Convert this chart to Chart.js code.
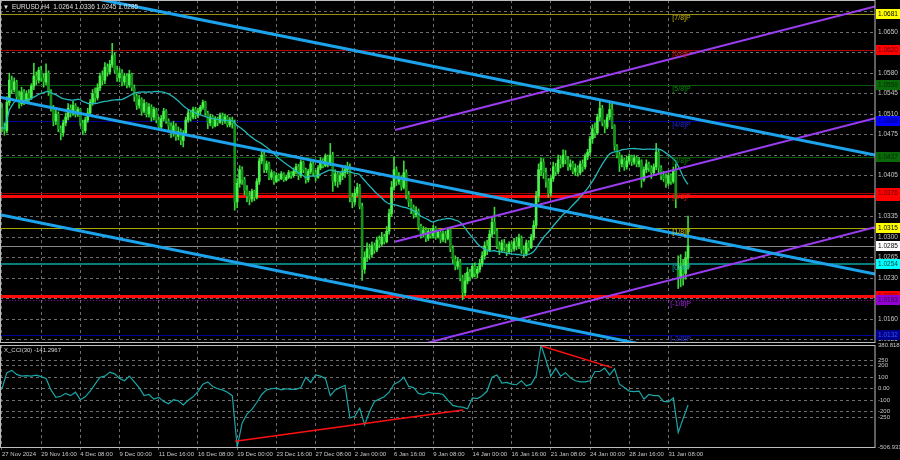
<!DOCTYPE html>
<html>
<head>
<meta charset="utf-8">
<title>EURUSD H4</title>
<script src="https://cdn.jsdelivr.net/npm/chart.js@4.4.1/dist/chart.umd.min.js"></script>
<style>
  html, body { margin: 0; padding: 0; background: #000; overflow: hidden; }
  #wrap { position: relative; width: 900px; height: 460px; }
  #priceChart { position: absolute; left: 0; top: 0; }
  #cciChart { position: absolute; left: 0; top: 338px; }
</style>
</head>
<body>
<div id="wrap">
  <canvas id="priceChart" width="900" height="343"></canvas>
  <canvas id="cciChart" width="900" height="122"></canvas>
</div>
<script>
// time axis labels, one every 16 H4 bars
const timeLabels = ['27 Nov 2024', '29 Nov 16:00', '4 Dec 08:00', '9 Dec 00:00', '11 Dec 16:00', '16 Dec 08:00',
    '19 Dec 00:00', '23 Dec 16:00', '27 Dec 08:00', '2 Jan 00:00', '6 Jan 16:00', '9 Jan 08:00',
    '14 Jan 00:00', '16 Jan 16:00', '21 Jan 08:00', '24 Jan 00:00', '28 Jan 16:00', '31 Jan 08:00'];

const priceTicks = [1.0125, 1.0160, 1.0195, 1.0230, 1.0265, 1.0300, 1.0335, 1.0370, 1.0405,
    1.0440, 1.0475, 1.0510, 1.0545, 1.0580, 1.0615, 1.0650, 1.0685];

// EURUSD H4 candles (open = previous close, except after the weekend gap)
const firstOpen = 1.0520;
const gapOpens = { 276: 1.0245 };
const closes = [
    1.0488, 1.0482, 1.0530, 1.0568, 1.0552, 1.0565, 1.0540, 1.0528, 1.0548, 1.0532,
    1.0545, 1.0538, 1.0558, 1.0575, 1.0568, 1.0585, 1.0572, 1.0565, 1.0580, 1.0548,
    1.0520, 1.0498, 1.0510, 1.0485, 1.0478, 1.0495, 1.0505, 1.0520, 1.0512, 1.0525,
    1.0510, 1.0518, 1.0495, 1.0482, 1.0500, 1.0512, 1.0530, 1.0545, 1.0538, 1.0555,
    1.0575, 1.0568, 1.0590, 1.0582, 1.0595, 1.0610, 1.0585, 1.0572, 1.0580, 1.0565,
    1.0575, 1.0560, 1.0578, 1.0555, 1.0540, 1.0525, 1.0535, 1.0515, 1.0528, 1.0510,
    1.0522, 1.0505, 1.0518, 1.0500, 1.0488, 1.0502, 1.0515, 1.0498, 1.0490, 1.0478,
    1.0490, 1.0472, 1.0480, 1.0465, 1.0478, 1.0500, 1.0512, 1.0505, 1.0518, 1.0508,
    1.0515, 1.0522, 1.0530, 1.0512, 1.0495, 1.0505, 1.0490, 1.0502, 1.0496, 1.0508,
    1.0498, 1.0505, 1.0492, 1.0500, 1.0495, 1.0360, 1.0392, 1.0415, 1.0398, 1.0380,
    1.0370, 1.0365, 1.0378, 1.0368, 1.0395, 1.0430, 1.0440, 1.0415, 1.0425, 1.0402,
    1.0410, 1.0395, 1.0405, 1.0400, 1.0408, 1.0398, 1.0402, 1.0410, 1.0405, 1.0412,
    1.0420, 1.0405, 1.0428, 1.0415, 1.0398, 1.0412, 1.0425, 1.0410, 1.0402, 1.0418,
    1.0430, 1.0422, 1.0438, 1.0425, 1.0440, 1.0395, 1.0408, 1.0395, 1.0405, 1.0410,
    1.0415, 1.0420, 1.0368, 1.0360, 1.0375, 1.0385, 1.0352, 1.0245, 1.0265, 1.0280,
    1.0270, 1.0285, 1.0278, 1.0295, 1.0288, 1.0300, 1.0292, 1.0310, 1.0340, 1.0385,
    1.0415, 1.0395, 1.0402, 1.0385, 1.0410, 1.0372, 1.0360, 1.0350, 1.0338, 1.0345,
    1.0318, 1.0305, 1.0312, 1.0298, 1.0310, 1.0302, 1.0315, 1.0300, 1.0308, 1.0296,
    1.0305, 1.0298, 1.0312, 1.0280, 1.0262, 1.0250, 1.0258, 1.0230, 1.0205, 1.0225,
    1.0240, 1.0232, 1.0250, 1.0238, 1.0245, 1.0255, 1.0268, 1.0285, 1.0278, 1.0305,
    1.0325, 1.0310, 1.0285, 1.0278, 1.0290, 1.0282, 1.0275, 1.0288, 1.0280, 1.0292,
    1.0285, 1.0298, 1.0278, 1.0272, 1.0290, 1.0282, 1.0300, 1.0320, 1.0370, 1.0415,
    1.0428, 1.0410, 1.0395, 1.0375, 1.0400, 1.0420, 1.0412, 1.0432, 1.0425, 1.0440,
    1.0432, 1.0420, 1.0425, 1.0412, 1.0418, 1.0410, 1.0425, 1.0420, 1.0438, 1.0445,
    1.0468, 1.0485, 1.0478, 1.0505, 1.0520, 1.0495, 1.0488, 1.0505, 1.0518, 1.0490,
    1.0455, 1.0440, 1.0425, 1.0432, 1.0420, 1.0430, 1.0438, 1.0428, 1.0435, 1.0425,
    1.0430, 1.0398, 1.0415, 1.0425, 1.0418, 1.0410, 1.0420, 1.0445, 1.0418, 1.0405,
    1.0400, 1.0392, 1.0405, 1.0395, 1.0415, 1.0365, 1.0230, 1.0250, 1.0238, 1.0264,
    1.0285
];
const highs = [
    1.0528, 1.0495, 1.0540, 1.0580, 1.0575, 1.0572, 1.0568, 1.0550, 1.0556, 1.0552,
    1.0550, 1.0552, 1.0562, 1.0597, 1.0582, 1.0590, 1.0592, 1.0578, 1.0596, 1.0584,
    1.0552, 1.0525, 1.0518, 1.0514, 1.0490, 1.0500, 1.0512, 1.0528, 1.0526, 1.0532,
    1.0528, 1.0522, 1.0520, 1.0500, 1.0505, 1.0520, 1.0535, 1.0552, 1.0555, 1.0562,
    1.0580, 1.0584, 1.0598, 1.0596, 1.0602, 1.0631, 1.0615, 1.0592, 1.0588, 1.0586,
    1.0580, 1.0578, 1.0585, 1.0580, 1.0560, 1.0545, 1.0542, 1.0538, 1.0535, 1.0530,
    1.0528, 1.0526, 1.0522, 1.0520, 1.0505, 1.0508, 1.0520, 1.0518, 1.0502, 1.0495,
    1.0498, 1.0494, 1.0488, 1.0485, 1.0482, 1.0505, 1.0518, 1.0516, 1.0522, 1.0522,
    1.0520, 1.0525, 1.0534, 1.0532, 1.0515, 1.0510, 1.0508, 1.0506, 1.0505, 1.0512,
    1.0512, 1.0510, 1.0508, 1.0504, 1.0505, 1.0500, 1.0400, 1.0422, 1.0420, 1.0402,
    1.0388, 1.0378, 1.0382, 1.0380, 1.0400, 1.0435, 1.0449, 1.0445, 1.0430, 1.0428,
    1.0415, 1.0412, 1.0410, 1.0408, 1.0412, 1.0410, 1.0406, 1.0414, 1.0412, 1.0418,
    1.0425, 1.0424, 1.0432, 1.0430, 1.0418, 1.0416, 1.0430, 1.0428, 1.0414, 1.0422,
    1.0436, 1.0434, 1.0442, 1.0440, 1.0460, 1.0445, 1.0415, 1.0412, 1.0410, 1.0418,
    1.0422, 1.0428, 1.0425, 1.0375, 1.0382, 1.0392, 1.0390, 1.0358, 1.0275, 1.0290,
    1.0288, 1.0292, 1.0290, 1.0300, 1.0302, 1.0308, 1.0305, 1.0318, 1.0348, 1.0395,
    1.0437, 1.0420, 1.0410, 1.0405, 1.0430, 1.0415, 1.0378, 1.0365, 1.0355, 1.0352,
    1.0348, 1.0322, 1.0318, 1.0316, 1.0315, 1.0314, 1.0320, 1.0318, 1.0312, 1.0312,
    1.0310, 1.0310, 1.0316, 1.0314, 1.0285, 1.0268, 1.0265, 1.0262, 1.0235, 1.0238,
    1.0248, 1.0245, 1.0255, 1.0256, 1.0250, 1.0262, 1.0275, 1.0292, 1.0295, 1.0312,
    1.0335, 1.0351, 1.0315, 1.0292, 1.0295, 1.0296, 1.0288, 1.0292, 1.0292, 1.0298,
    1.0300, 1.0305, 1.0302, 1.0285, 1.0295, 1.0294, 1.0305, 1.0328, 1.0378, 1.0425,
    1.0435, 1.0434, 1.0418, 1.0400, 1.0405, 1.0428, 1.0426, 1.0440, 1.0438, 1.0449,
    1.0448, 1.0438, 1.0432, 1.0430, 1.0425, 1.0422, 1.0430, 1.0432, 1.0442, 1.0450,
    1.0472, 1.0492, 1.0495, 1.0510, 1.0534, 1.0525, 1.0500, 1.0510, 1.0530, 1.0528,
    1.0492, 1.0458, 1.0445, 1.0440, 1.0435, 1.0438, 1.0442, 1.0440, 1.0440, 1.0438,
    1.0436, 1.0432, 1.0420, 1.0432, 1.0428, 1.0422, 1.0425, 1.0460, 1.0450, 1.0422,
    1.0412, 1.0408, 1.0410, 1.0408, 1.0420, 1.0425, 1.0268, 1.0270, 1.0262, 1.0275,
    1.0336
];
const lows = [
    1.0480, 1.0474, 1.0478, 1.0525, 1.0545, 1.0548, 1.0535, 1.0520, 1.0524, 1.0526,
    1.0528, 1.0530, 1.0535, 1.0552, 1.0560, 1.0563, 1.0566, 1.0556, 1.0560, 1.0542,
    1.0515, 1.0490, 1.0492, 1.0480, 1.0466, 1.0472, 1.0490, 1.0500, 1.0505, 1.0508,
    1.0505, 1.0506, 1.0490, 1.0475, 1.0478, 1.0496, 1.0508, 1.0525, 1.0530, 1.0534,
    1.0550, 1.0560, 1.0562, 1.0575, 1.0578, 1.0590, 1.0580, 1.0566, 1.0565, 1.0558,
    1.0560, 1.0555, 1.0556, 1.0550, 1.0532, 1.0518, 1.0520, 1.0508, 1.0512, 1.0505,
    1.0505, 1.0498, 1.0500, 1.0495, 1.0482, 1.0484, 1.0498, 1.0494, 1.0480, 1.0470,
    1.0472, 1.0465, 1.0466, 1.0458, 1.0454, 1.0475, 1.0496, 1.0498, 1.0502, 1.0502,
    1.0504, 1.0510, 1.0518, 1.0508, 1.0485, 1.0490, 1.0486, 1.0488, 1.0490, 1.0494,
    1.0492, 1.0494, 1.0488, 1.0488, 1.0486, 1.0346, 1.0350, 1.0385, 1.0390, 1.0372,
    1.0360, 1.0355, 1.0360, 1.0362, 1.0365, 1.0390, 1.0425, 1.0410, 1.0410, 1.0398,
    1.0398, 1.0390, 1.0393, 1.0396, 1.0398, 1.0395, 1.0396, 1.0400, 1.0400, 1.0402,
    1.0408, 1.0398, 1.0402, 1.0410, 1.0392, 1.0394, 1.0408, 1.0405, 1.0396, 1.0400,
    1.0415, 1.0418, 1.0420, 1.0420, 1.0422, 1.0378, 1.0388, 1.0385, 1.0390, 1.0398,
    1.0402, 1.0408, 1.0360, 1.0350, 1.0355, 1.0370, 1.0348, 1.0226, 1.0238, 1.0258,
    1.0262, 1.0265, 1.0272, 1.0275, 1.0282, 1.0285, 1.0288, 1.0290, 1.0305, 1.0335,
    1.0380, 1.0388, 1.0390, 1.0380, 1.0382, 1.0365, 1.0352, 1.0340, 1.0332, 1.0334,
    1.0312, 1.0298, 1.0300, 1.0292, 1.0294, 1.0298, 1.0298, 1.0296, 1.0298, 1.0290,
    1.0292, 1.0290, 1.0295, 1.0275, 1.0255, 1.0244, 1.0245, 1.0225, 1.0193, 1.0200,
    1.0220, 1.0225, 1.0230, 1.0232, 1.0230, 1.0240, 1.0250, 1.0262, 1.0270, 1.0275,
    1.0300, 1.0305, 1.0280, 1.0270, 1.0275, 1.0276, 1.0268, 1.0272, 1.0275, 1.0276,
    1.0278, 1.0280, 1.0272, 1.0266, 1.0268, 1.0276, 1.0280, 1.0295, 1.0315, 1.0360,
    1.0405, 1.0400, 1.0385, 1.0368, 1.0370, 1.0395, 1.0405, 1.0408, 1.0418, 1.0420,
    1.0425, 1.0414, 1.0415, 1.0408, 1.0405, 1.0404, 1.0406, 1.0412, 1.0416, 1.0432,
    1.0440, 1.0460, 1.0470, 1.0475, 1.0498, 1.0490, 1.0478, 1.0485, 1.0500, 1.0485,
    1.0448, 1.0435, 1.0412, 1.0420, 1.0414, 1.0416, 1.0426, 1.0422, 1.0424, 1.0420,
    1.0420, 1.0385, 1.0395, 1.0410, 1.0412, 1.0400, 1.0405, 1.0415, 1.0410, 1.0398,
    1.0395, 1.0385, 1.0388, 1.0390, 1.0392, 1.0350, 1.0212, 1.0215, 1.0218, 1.0228,
    1.0245
];

// X_CCI(30), one reading every 2 bars
const cciValues = [
    0, 140, 160, 125, 110, 115, 110, 118, 105, 90,
    -10, -75, -65, -40, -60, -30, -95, -70, -20, 40,
    100, 110, 145, 130, 90, 70, 110, 60, 10, -60,
    -50, -90, -75, -110, -130, -95, -105, -140, -100, -70,
    -25, 40, 60, 20, 0, -10, -30, -60, -506.931, -300,
    -220, -180, -120, -50, -10, 0, 5, -10, 0, -5,
    -5, 10, 100, 55, 120, 110, 90, -60, -10, 10,
    30, -255, -240, -170, -315, -200, -110, -90, -70, -30,
    40, 60, 100, 20, 10, -40, -50, -30, -40, -40,
    -50, -100, -145, -155, -160, -175, -80, -85, -60, -20,
    100, 120, 50, 55, 40, 35, 70, 25, 40, 110,
    380.8188, 250, 110, 180, 110, 140, 95, 70, 60, 60,
    70, 150, 150, 180, 120, 175, 40, 10, -20, -25,
    -20, -90, -50, -60, -60, -110, -115, -80, -380, -260,
    -141.2967
];
const cciTicks = [380.8188, 250, 200, 100, 0, -100, -200, -250, -506.931];

// Murrey math levels [7/8] .. [-2/8], analyst support lines
const murreyPrices = [1.0681, 1.0620, 1.0559, 1.0498, 1.0437, 1.0376, 1.0315, 1.0254, 1.0193, 1.0132];
const murreyNames = ['[7/8]P', '[6/8]P', '[5/8]P', '[4/8]P', '[3/8]P', '[2/8]P', '[1/8]P', '[0/8]P', '[-1/8]P', '[-2/8]P'];
const supportLevels = [1.0370, 1.0200];

// trend lines as [bar, price] end points
const blueLines = [
    [[40, 1.0706], [356.3, 1.0440]],
    [[-0.8, 1.0539], [356.3, 1.0237]],
    [[-0.8, 1.0338], [300, 1.0084]]
];
const purpleLines = [
    [[160.4, 1.0483], [356.3, 1.0694]],
    [[160.4, 1.0292], [356.3, 1.0503]],
    [[160.4, 1.0105], [356.3, 1.0317]]
];
const cciRedLines = [
    [[95.2, -456], [188.2, -184]],
    [[220.2, 372], [249, 184]]
];

const maPeriod = 30;

// ---- styles ----
const family = '"Liberation Sans", Arial, sans-serif';
const gridColor = 'rgba(128,128,128,0.85)';
const axisText = '#c8c8c8';
const frameColor = '#bdbdbd';
const xMin = -0.8, xMax = 356.3;

const murreyStyle = [
    { line: '#9c8c18', w: 1, tag: '#ffff00', tagText: '#000', text: '#c8b400' },
    { line: '#b00000', w: 1, tag: '#ff0000', tagText: '#600000', text: '#e01010' },
    { line: '#0b560b', w: 1, tag: '#0a6a0a', tagText: '#022c02', text: '#0a8a0a' },
    { line: '#00009a', w: 1, tag: '#0000ff', tagText: '#000060', text: '#2828e8' },
    { line: '#0b560b', w: 1, tag: '#0a6a0a', tagText: '#022c02', text: '#0a8a0a' },
    { line: '#a00000', w: 1, tag: '#ff0000', tagText: '#600000', text: '#ff2020' },
    { line: '#a8a800', w: 1, tag: '#ffff00', tagText: '#000', text: '#d0c000' },
    { line: '#0a7c7c', w: 2, tag: '#00ffff', tagText: '#003838', text: '#18b8b8' },
    { line: '#8000a8', w: 1, tag: '#9400d3', tagText: '#2a003c', text: '#a020e0', dash: [1, 2] },
    { line: '#000094', w: 1, tag: '#00008b', tagText: '#3050ff', text: '#2828e0' }
];

// ---- derived series ----
const opens = closes.map((c, i) => i === 0 ? firstOpen : (gapOpens[i] !== undefined ? gapOpens[i] : closes[i - 1]));
const wickData = closes.map((c, i) => ({ x: i, y: [lows[i], highs[i]] }));
const bodyData = closes.map((c, i) => ({ x: i, y: [Math.min(opens[i], c), Math.max(opens[i], c)] }));
const bodyColors = closes.map((c, i) => c >= opens[i] ? '#4cf24c' : '#16901a');
const maData = closes.map((c, i) => {
    const win = closes.slice(Math.max(0, i - maPeriod + 1), i + 1);
    return { x: i, y: win.reduce((a, b) => a + b, 0) / win.length };
});
const cciData = cciValues.map((v, i) => ({ x: i * 2, y: v }));
const last = closes.length - 1;

function xTicks(scale) {
    scale.ticks = timeLabels.map((_, i) => ({ value: i * 16 }));
}

// keep the plot area on the panel edges (no room reserved for overflowing labels)
function noPad(scale) {
    scale.paddingTop = 0;
    scale.paddingBottom = 0;
    scale.paddingLeft = 0;
    scale.paddingRight = 0;
}

function segment(points, color, width, order) {
    return {
        type: 'line',
        data: points.map(p => ({ x: p[0], y: p[1] })),
        borderColor: color,
        borderWidth: width,
        pointRadius: 0,
        tension: 0,
        order: order
    };
}

function hLine(ctx, area, y, color, width, dash) {
    const yy = width % 2 ? Math.round(y) + 0.5 : Math.round(y);
    ctx.save();
    ctx.strokeStyle = color;
    ctx.lineWidth = width;
    ctx.setLineDash(dash || []);
    ctx.beginPath();
    ctx.moveTo(area.left, yy);
    ctx.lineTo(area.right, yy);
    ctx.stroke();
    ctx.restore();
}

function tag(ctx, y, bg, fg, txt) {
    const yy = Math.round(y);
    ctx.fillStyle = bg;
    ctx.fillRect(876, yy - 5, 24, 10);
    ctx.fillStyle = fg;
    ctx.font = '6.5px ' + family;
    ctx.textAlign = 'left';
    ctx.textBaseline = 'middle';
    ctx.fillText(txt, 878, yy + 0.5);
}

// horizontal levels, their labels and the price tags on the axis
const levelsPlugin = {
    id: 'levels',
    beforeDatasetsDraw(chart) {
        const { ctx, chartArea, scales: { y } } = chart;
        murreyPrices.forEach((p, i) => {
            const s = murreyStyle[i];
            hLine(ctx, chartArea, y.getPixelForValue(p), s.line, s.w, s.dash);
        });
        hLine(ctx, chartArea, y.getPixelForValue(closes[last]), '#8a8a8a', 1);
        supportLevels.forEach(p => hLine(ctx, chartArea, y.getPixelForValue(p), '#ff0a0a', 3));
    },
    afterDatasetsDraw(chart) {
        const { ctx, scales: { x, y } } = chart;
        ctx.save();
        ctx.font = '7px ' + family;
        ctx.textAlign = 'left';
        ctx.textBaseline = 'middle';
        murreyPrices.forEach((p, i) => {
            ctx.fillStyle = murreyStyle[i].text;
            const dx = murreyNames[i].length > 6 ? -2 : 0;
            ctx.fillText(murreyNames[i], x.getPixelForValue(273.6) + dx, y.getPixelForValue(p) + 4);
        });
        ctx.restore();
    },
    afterDraw(chart) {
        const { ctx, chartArea, scales: { y } } = chart;
        ctx.save();
        supportLevels.forEach(p => tag(ctx, y.getPixelForValue(p), '#ff0000', '#600000', p.toFixed(4)));
        murreyPrices.forEach((p, i) => {
            const s = murreyStyle[i];
            tag(ctx, y.getPixelForValue(p), s.tag, s.tagText, p.toFixed(4));
        });
        tag(ctx, y.getPixelForValue(closes[last]), '#ffffff', '#000', closes[last].toFixed(4));

        // panel frame
        ctx.strokeStyle = frameColor;
        ctx.lineWidth = 1;
        ctx.setLineDash([]);
        ctx.strokeRect(0.5, 0.5, chartArea.right - 0.5, chartArea.bottom - 1);

        // symbol header
        ctx.fillStyle = '#e0e0e0';
        ctx.font = '6px ' + family;
        ctx.textBaseline = 'middle';
        ctx.fillText('\u25BC', 3, 7);
        ctx.font = '6.5px ' + family;
        ctx.fillText('EURUSD,H4  ' + [opens[last], highs[last], lows[last], closes[last]].map(v => v.toFixed(4)).join(' '), 12, 7);
        ctx.restore();
    }
};

const priceChart = new Chart(document.getElementById('priceChart').getContext('2d'), {
    type: 'bar',
    data: {
        datasets: [
            ...blueLines.map(l => segment(l, '#1ca3ec', 3, 1)),
            ...purpleLines.map(l => segment(l, '#9a3cf0', 2, 1)),
            {
                type: 'line', data: maData, borderColor: '#22b8bc', borderWidth: 1.3,
                pointRadius: 0, tension: 0, order: 2
            },
            {
                data: bodyData, backgroundColor: bodyColors, barThickness: 2,
                minBarLength: 1, grouped: false, order: 3
            },
            {
                data: wickData, backgroundColor: '#3ad83a', barThickness: 1,
                grouped: false, order: 4
            }
        ]
    },
    options: {
        responsive: false,
        animation: false,
        devicePixelRatio: 1,
        events: [],
        layout: { padding: 0 },
        plugins: { legend: { display: false }, tooltip: { enabled: false } },
        scales: {
            x: {
                type: 'linear', min: xMin, max: xMax, offset: false,
                afterBuildTicks: xTicks,
                ticks: { display: false },
                grid: { color: gridColor, drawTicks: false, offset: false },
                border: { display: false, dash: [3, 3] },
                afterFit: s => { s.height = 0; noPad(s); }
            },
            y: {
                position: 'right', min: 1.0119, max: 1.0705,
                afterBuildTicks: s => { s.ticks = priceTicks.map(v => ({ value: v })); },
                ticks: {
                    color: axisText, padding: 3, autoSkip: false,
                    font: { size: 6.5, family: family },
                    callback: v => v.toFixed(4)
                },
                grid: { color: gridColor, drawTicks: false },
                border: { display: false, dash: [3, 3] },
                afterFit: s => { s.width = 25; noPad(s); }
            }
        }
    },
    plugins: [levelsPlugin]
});

// CCI sub-window
const cciPlugin = {
    id: 'cciFrame',
    afterDraw(chart) {
        const { ctx, chartArea } = chart;
        ctx.save();
        ctx.strokeStyle = frameColor;
        ctx.lineWidth = 1;
        ctx.strokeRect(0.5, Math.round(chartArea.top) + 0.5, chartArea.right - 0.5, Math.round(chartArea.bottom - chartArea.top));
        ctx.fillStyle = '#d8d8d8';
        ctx.font = '6px ' + family;
        ctx.textAlign = 'left';
        ctx.textBaseline = 'middle';
        ctx.fillText('X_CCI(30) ' + cciValues[cciValues.length - 1].toFixed(4), 4, chartArea.top + 5);
        ctx.restore();
    }
};

const cciChart = new Chart(document.getElementById('cciChart').getContext('2d'), {
    type: 'line',
    data: {
        datasets: [
            ...cciRedLines.map(l => segment(l, '#ff1010', 1.5, 1)),
            {
                data: cciData, borderColor: '#1aa6a6', borderWidth: 1.2,
                pointRadius: 0, tension: 0, order: 2
            }
        ]
    },
    options: {
        responsive: false,
        animation: false,
        devicePixelRatio: 1,
        events: [],
        layout: { padding: { top: 7, left: 0, right: 0, bottom: 0 } },
        plugins: { legend: { display: false }, tooltip: { enabled: false } },
        scales: {
            x: {
                type: 'linear', min: xMin, max: xMax, offset: false,
                afterBuildTicks: xTicks,
                ticks: {
                    color: axisText, align: 'start', padding: 1, maxRotation: 0, autoSkip: false,
                    font: { size: 6, family: family },
                    callback: (v, i) => timeLabels[i]
                },
                grid: { color: gridColor, tickLength: 3 },
                border: { display: false, dash: [3, 3] },
                afterFit: s => { s.height = 13; noPad(s); }
            },
            y: {
                position: 'right', min: cciTicks[cciTicks.length - 1], max: cciTicks[0],
                afterBuildTicks: s => { s.ticks = cciTicks.map(v => ({ value: v })); },
                ticks: {
                    color: axisText, padding: 3, autoSkip: false,
                    font: { size: 6, family: family },
                    callback: v => v === 0 ? '0.00' : String(v)
                },
                grid: {
                    drawTicks: false,
                    color: c => (c.tick && (c.tick.value === cciTicks[0] || c.tick.value === cciTicks[cciTicks.length - 1])) ? 'rgba(0,0,0,0)' : gridColor
                },
                border: { display: false, dash: [3, 3] },
                afterFit: s => { s.width = 25; noPad(s); }
            }
        }
    },
    plugins: [cciPlugin]
});
</script>
</body>
</html>
